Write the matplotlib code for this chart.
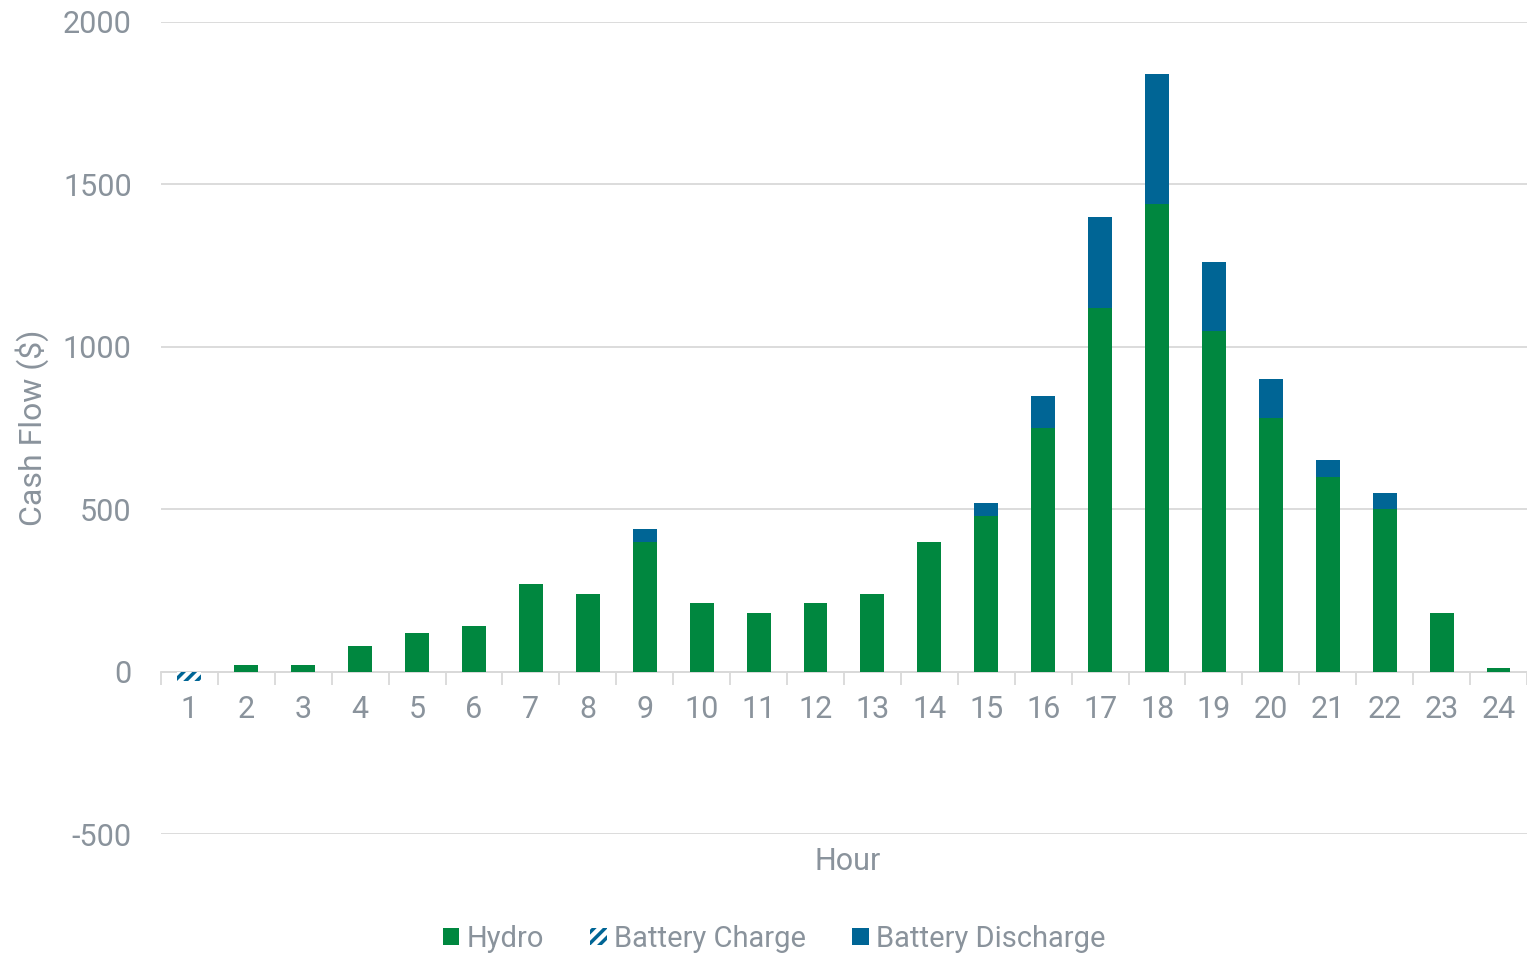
import matplotlib
matplotlib.use('Agg')
import matplotlib.pyplot as plt
from matplotlib.patches import Patch

plt.rcParams['font.family'] = ['Roboto', 'DejaVu Sans']
plt.rcParams['hatch.linewidth'] = 2.5
plt.rcParams['axes.unicode_minus'] = False

# data
hours = list(range(1, 25))
hydro = [0, 20, 20, 80, 120, 140, 270, 240, 400, 210, 180, 210,
         240, 400, 480, 750, 1120, 1440, 1050, 780, 600, 500, 180, 10]
battery_charge = [-30, 0, 0, 0, 0, 0, 0, 0, 0, 0, 0, 0,
                  0, 0, 0, 0, 0, 0, 0, 0, 0, 0, 0, 0]
battery_discharge = [0, 0, 0, 0, 0, 0, 0, 0, 40, 0, 0, 0,
                     0, 0, 40, 100, 280, 400, 210, 120, 50, 50, 0, 0]

green = '#00873f'
blue = '#006595'
text_grey = '#8a939c'
line_grey = '#d9d9d9'


def main():
    fig = plt.figure(figsize=(15.27, 9.56), dpi=100)
    ax = fig.add_axes([0.1054, 0.1276, 0.8946, 0.8494])

    w = 0.42
    ax.bar(hours, hydro, width=w, color=green, zorder=3)
    ax.bar(hours, battery_charge, width=w, color='white', edgecolor=blue,
           hatch='///', linewidth=0, zorder=3)
    ax.bar(hours, battery_discharge, width=w, bottom=hydro, color=blue, zorder=3)

    ax.set_xlim(0.5, 24.5)
    ax.set_ylim(-500, 2000)
    ax.set_yticks([-500, 0, 500, 1000, 1500, 2000])
    ax.yaxis.grid(True, color=line_grey, linewidth=1.3, zorder=0)
    ax.set_axisbelow(True)

    for s in ['top', 'right', 'left']:
        ax.spines[s].set_visible(False)
    ax.spines['bottom'].set_position(('data', 0))
    ax.spines['bottom'].set_color(line_grey)
    ax.spines['bottom'].set_linewidth(1.3)

    ax.set_xticks(hours)
    ax.set_xticklabels([str(h) for h in hours])
    ax.set_xticks([h + 0.5 for h in range(0, 25)], minor=True)
    ax.tick_params(axis='x', which='major', length=0, pad=17,
                   labelsize=22, labelcolor=text_grey)
    ax.tick_params(axis='x', which='minor', length=9, width=1.3, color=line_grey)
    ax.tick_params(axis='y', length=0, pad=21, labelsize=22, labelcolor=text_grey)

    fig.text(0.021, 0.552, 'Cash Flow ($)', rotation=90, ha='center', va='center',
             fontsize=23, color=text_grey)
    fig.text(0.555, 0.099, 'Hour', ha='center', va='center',
             fontsize=22, color=text_grey)

    handles = [
        Patch(facecolor=green, edgecolor='none', label='Hydro'),
        Patch(facecolor='white', edgecolor=blue, hatch='///', linewidth=0,
              label='Battery Charge'),
        Patch(facecolor=blue, edgecolor='none', label='Battery Discharge'),
    ]
    leg = fig.legend(handles=handles, loc='center', bbox_to_anchor=(0.507, 0.018),
                     ncol=3, frameon=False, fontsize=21, handlelength=0.55,
                     handleheight=0.55, handletextpad=0.25, columnspacing=1.6)
    for t in leg.get_texts():
        t.set_color(text_grey)

    fig.savefig('out.png', dpi=100)
    plt.close(fig)


if __name__ == "__main__":
    main()
